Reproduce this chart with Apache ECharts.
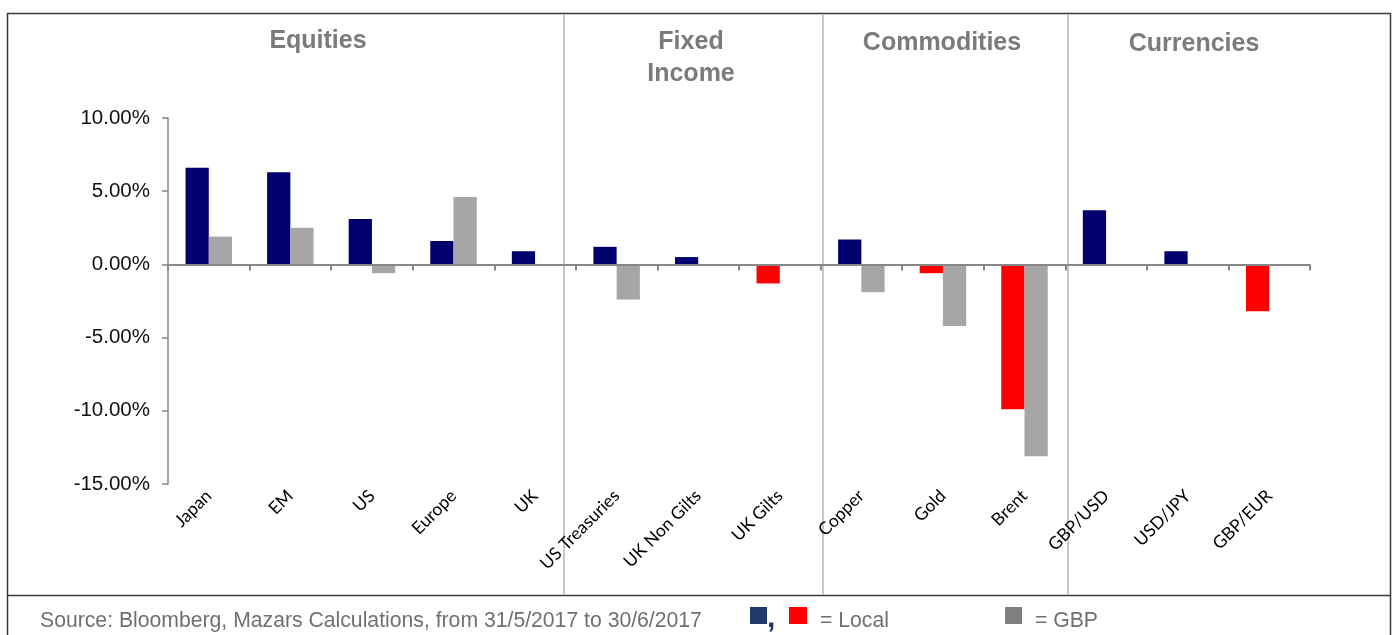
<!DOCTYPE html>
<html>
<head>
<meta charset="utf-8">
<title>Asset class returns</title>
<script src="https://cdn.jsdelivr.net/npm/echarts@6/dist/echarts.min.js"></script>
<style>
  html, body { margin: 0; padding: 0; background: #ffffff; }
  #chart { width: 1397px; height: 635px; }
</style>
</head>
<body>
<div id="chart"></div>
<script>
// Monthly returns by asset, in percent
const categories = ['Japan', 'EM', 'US', 'Europe', 'UK', 'US Treasuries', 'UK Non Gilts', 'UK Gilts',
                    'Copper', 'Gold', 'Brent', 'GBP/USD', 'USD/JPY', 'GBP/EUR'];
const localReturns = [6.6, 6.3, 3.1, 1.6, 0.9, 1.2, 0.5, -1.3, 1.7, -0.6, -9.9, 3.7, 0.9, -3.2];
const gbpReturns = [1.9, 2.5, -0.6, 4.6, null, -2.4, null, null, -1.9, -4.2, -13.1, null, null, null];
const yTicks = { min: -15, max: 10, interval: 5 };

const sectionTitles = [
  { text: 'Equities', x: 318, y: 41 },
  { text: 'Fixed\nIncome', x: 691, y: 58 },
  { text: 'Commodities', x: 942, y: 43 },
  { text: 'Currencies', x: 1194, y: 44 }
];
const sectionDividers = [564, 823, 1068];
const sourceNote = 'Source: Bloomberg, Mazars Calculations, from 31/5/2017 to 30/6/2017';

const NAVY = '#00006e';
const RED = '#ff0000';
const GREY = '#a6a6a6';
const AXIS = '#878787';
const NOTE = '#707070';

const chart = echarts.init(document.getElementById('chart'), null, { renderer: 'canvas' });

const graphics = [];
// outer frame and footer separator
graphics.push({
  type: 'rect', shape: { x: 7.5, y: 13.5, width: 1383, height: 640 },
  style: { fill: 'none', stroke: '#3a3a3a', lineWidth: 1.5 }, z: 0, silent: true
});
graphics.push({
  type: 'line', shape: { x1: 7.5, y1: 595.5, x2: 1390.5, y2: 595.5 },
  style: { stroke: '#3a3a3a', lineWidth: 1.5 }, z: 0, silent: true
});
// section dividers
sectionDividers.forEach(function (x) {
  graphics.push({
    type: 'line', shape: { x1: x, y1: 14, x2: x, y2: 595 },
    style: { stroke: '#c8c8c8', lineWidth: 2 }, z: 0, silent: true
  });
});
// section headings
sectionTitles.forEach(function (t) {
  graphics.push({
    type: 'text', x: t.x, y: t.y, silent: true,
    style: {
      text: t.text, fill: '#7b7b7b', font: 'bold 25px "Liberation Sans", Arial, sans-serif',
      align: 'center', verticalAlign: 'middle', lineHeight: 32
    }
  });
});
// footer note and key
graphics.push({
  type: 'text', x: 40, y: 621, silent: true,
  style: { text: sourceNote, fill: NOTE, font: '21.2px "Liberation Sans", Arial, sans-serif',
           align: 'left', verticalAlign: 'middle' }
});
graphics.push({ type: 'rect', shape: { x: 750, y: 607, width: 17, height: 17 }, style: { fill: '#1f3a68' }, silent: true });
graphics.push({
  type: 'text', x: 767, y: 619, silent: true,
  style: { text: ',', fill: '#1f3a68', font: 'bold 30px "Liberation Sans", Arial, sans-serif',
           align: 'left', verticalAlign: 'middle' }
});
graphics.push({ type: 'rect', shape: { x: 789, y: 607, width: 18, height: 17 }, style: { fill: RED }, silent: true });
graphics.push({
  type: 'text', x: 820, y: 621, silent: true,
  style: { text: '= Local', fill: NOTE, font: '21.2px "Liberation Sans", Arial, sans-serif',
           align: 'left', verticalAlign: 'middle' }
});
graphics.push({ type: 'rect', shape: { x: 1005, y: 607, width: 17, height: 17 }, style: { fill: '#7f7f7f' }, silent: true });
graphics.push({
  type: 'text', x: 1035, y: 621, silent: true,
  style: { text: '= GBP', fill: NOTE, font: '21.2px "Liberation Sans", Arial, sans-serif',
           align: 'left', verticalAlign: 'middle' }
});

const option = {
  animation: false,
  backgroundColor: '#ffffff',
  grid: { left: 168, right: 87, top: 118, bottom: 151, containLabel: false },
  xAxis: [
    {
      // zero line with category ticks
      type: 'category', data: categories, boundaryGap: true,
      axisLine: { onZero: true, lineStyle: { color: AXIS, width: 2 } },
      axisTick: { show: true, interval: 0, length: 6, lineStyle: { color: AXIS, width: 2 } },
      axisLabel: { show: false }, splitLine: { show: false }, z: 5
    },
    {
      // category names along the bottom of the plot
      type: 'category', data: categories, position: 'bottom', boundaryGap: true,
      axisLine: { show: false, onZero: false }, axisTick: { show: false },
      axisLabel: {
        interval: 0, rotate: 45, margin: 9, color: '#000000',
        fontFamily: 'Lato, "Open Sans", sans-serif', fontSize: 17.5
      },
      splitLine: { show: false }
    }
  ],
  yAxis: {
    type: 'value', min: yTicks.min, max: yTicks.max, interval: yTicks.interval,
    axisLine: { show: true, lineStyle: { color: AXIS, width: 1.5 } },
    axisTick: { show: true, length: 6, lineStyle: { color: AXIS, width: 1.5 } },
    axisLabel: {
      margin: 18, color: '#111111', fontSize: 20.5,
      fontFamily: '"Liberation Sans", Arial, sans-serif',
      formatter: function (v) { return v.toFixed(2) + '%'; }
    },
    splitLine: { show: false }
  },
  series: [
    {
      name: 'Local', type: 'bar', xAxisIndex: 0, data: localReturns,
      barWidth: '28.5%', barGap: '0%',
      itemStyle: { color: function (p) { return p.value < 0 ? RED : NAVY; } }
    },
    {
      name: 'GBP', type: 'bar', xAxisIndex: 0, data: gbpReturns,
      barWidth: '28.5%', barGap: '0%',
      itemStyle: { color: GREY }
    }
  ],
  graphic: { elements: graphics }
};

chart.setOption(option);
</script>
</body>
</html>
